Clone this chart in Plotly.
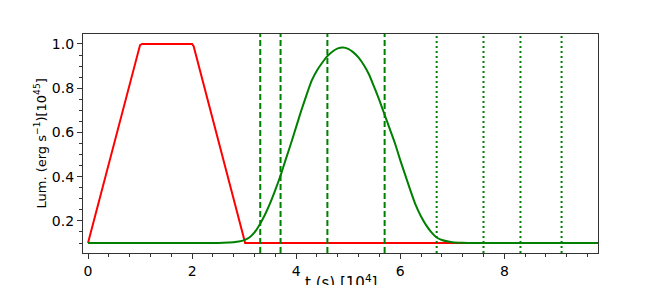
import plotly.graph_objects as go

# Red light curve (t in 1e4 s, luminosity in 1e45 erg/s)
red_t = [0.0, 0.96, 1.0, 1.04, 2.0, 2.03, 3.02, 9.8]
red_l = [0.1, 0.965, 0.995, 1.0, 1.0, 0.99, 0.1, 0.1]

# Green light curve
green_t = [0.0, 1.0, 2.0, 2.4, 2.6, 2.8, 2.9, 3.0, 3.1, 3.2, 3.3, 3.4, 3.5, 3.6, 3.7, 3.8, 3.9,
           4.0, 4.1, 4.2, 4.3, 4.4, 4.5, 4.6, 4.7, 4.8, 4.9, 5.0, 5.1, 5.2, 5.3, 5.4, 5.5,
           5.6, 5.7, 5.8, 5.9, 6.0, 6.1, 6.2, 6.3, 6.4, 6.5, 6.6, 6.7, 6.8, 6.9, 7.0,
           7.2, 7.4, 8.0, 9.0, 9.8]
green_l = [0.1, 0.1, 0.1, 0.1, 0.101, 0.104, 0.107, 0.113, 0.125, 0.148, 0.184, 0.228, 0.28,
           0.34, 0.405, 0.478, 0.55, 0.625, 0.70, 0.77, 0.835, 0.88, 0.915, 0.945, 0.966,
           0.98, 0.984, 0.978, 0.962, 0.938, 0.905, 0.862, 0.805, 0.745, 0.68, 0.615, 0.55,
           0.475, 0.405, 0.335, 0.27, 0.22, 0.18, 0.148, 0.125, 0.114, 0.108, 0.104, 0.101,
           0.1, 0.1, 0.1, 0.1]

dashed_t = [3.31, 3.70, 4.60, 5.70]
dotted_t = [6.70, 7.60, 8.31, 9.10]

x_ticks = [0, 2, 4, 6, 8]
y_ticks = [0.2, 0.4, 0.6, 0.8, 1.0]

FONT = "DejaVu Sans, sans-serif"

fig = go.Figure()
fig.add_trace(go.Scatter(x=red_t, y=red_l, mode="lines",
                         line=dict(color="#ff0000", width=2), showlegend=False))
fig.add_trace(go.Scatter(x=green_t, y=green_l, mode="lines", line_shape="spline",
                         line=dict(color="#008000", width=2, smoothing=0.4), showlegend=False))

for t in dashed_t:
    fig.add_shape(type="line", xref="x", yref="paper", x0=t, x1=t, y0=0, y1=1,
                  line=dict(color="#008000", width=2, dash="6px,3px"), layer="above")
for t in dotted_t:
    fig.add_shape(type="line", xref="x", yref="paper", x0=t, x1=t, y0=0, y1=1,
                  line=dict(color="#008000", width=2, dash="2px,3px"), layer="above")

axis_common = dict(showgrid=False, zeroline=False, showline=True, mirror=True,
                   linecolor="#333333", linewidth=1.3, ticks="outside", ticklen=5,
                   tickwidth=1, tickcolor="#333333",
                   tickfont=dict(family=FONT, size=14, color="#000000"))

fig.update_xaxes(range=[-0.096, 9.8], tickvals=x_ticks, ticktext=[str(v) for v in x_ticks],
                 minor=dict(dtick=0.4, tick0=0, ticks="outside", ticklen=3,
                            tickcolor="#333333", tickwidth=1),
                 **axis_common)
fig.update_yaxes(range=[0.055, 1.045], tickvals=y_ticks, ticktext=[f"{v:.1f}" for v in y_ticks],
                 minor=dict(dtick=0.05, tick0=0, ticks="outside", ticklen=3,
                            tickcolor="#333333", tickwidth=1),
                 **axis_common)

fig.add_annotation(text="t (s) [10<sup>4</sup>]", xref="paper", yref="paper", x=0.5, y=0,
                   xanchor="center", yanchor="top", yshift=-17, showarrow=False,
                   font=dict(family=FONT, size=15, color="#000000"))
fig.add_annotation(text="Lum. (erg s<sup>\u22121</sup>)[10<sup>45</sup>]", xref="paper", yref="paper",
                   x=0, y=0.5, xanchor="center", yanchor="middle", xshift=-43, textangle=-90,
                   showarrow=False, font=dict(family=FONT, size=13, color="#000000"))

# page body has an 8px offset; margins compensate so the axes land where the reference has them
fig.update_layout(width=664, height=285, margin=dict(l=75, r=74, t=26, b=40),
                  plot_bgcolor="white", paper_bgcolor="white")

fig.write_html("out.html")
